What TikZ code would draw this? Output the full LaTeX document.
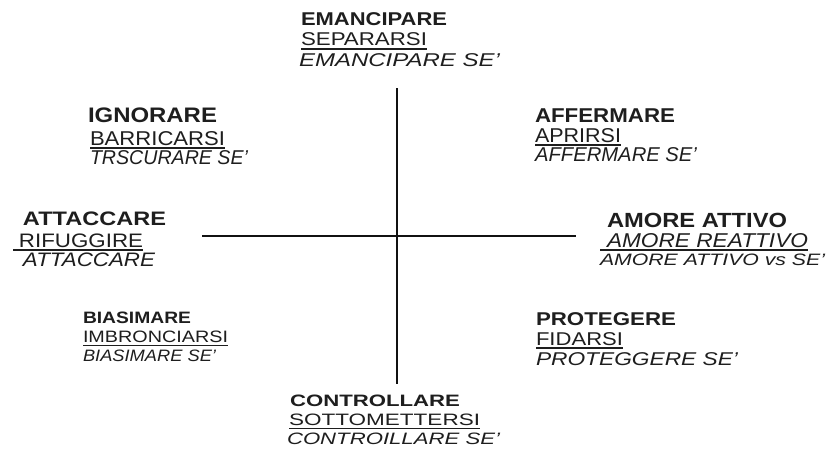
\documentclass[tikz,border=0pt]{standalone}
\usepackage{fontspec}
\usepackage{graphicx}
\setmainfont{Liberation Sans}
\definecolor{ink}{HTML}{1E1E1E}
\definecolor{axis}{HTML}{111111}
\newcommand\myul[2][0pt]{\setbox0=\hbox{#2}\rlap{\kern-#1\rule[-3.6pt]{\dimexpr\wd0+#1\relax}{1.3pt}}\box0}
% \fitline{fontsize}{width}{text}
\newcommand\fitline[3]{\resizebox{#2pt}{\height}{\fontsize{#1}{#1}\selectfont #3}}
\tikzset{
  lbl/.style={anchor=base west, inner sep=0pt, outer sep=0pt, text=ink},
  axisline/.style={draw=axis, line width=2.6pt}
}
\begin{document}
\begin{tikzpicture}[x=1pt,y=-1pt]
\useasboundingbox (0,0) rectangle (826,452);
\fill[white] (0,0) rectangle (826,452);
% axes
\coordinate (vt) at (397,88);
\coordinate (vb) at (397,383.5);
\coordinate (hl) at (202,236);
\coordinate (hr) at (576,236);
\draw[axisline] (vt) -- (vb);
\draw[axisline] (hl) -- (hr);
% top
\node[lbl] (t1) at (301,26) {\fitline{18.5}{146}{\bfseries EMANCIPARE}};
\node[lbl] (t2) at (301,46) {\fitline{18.5}{126}{\myul{SEPARARSI}}};
\node[lbl] (t3) at (299,66.5) {\fitline{18.5}{201}{\itshape EMANCIPARE SE'}};
% upper left
\node[lbl] (ul1) at (88,122) {\fitline{21}{129}{\bfseries IGNORARE}};
\node[lbl] (ul2) at (90,145) {\fitline{20}{135}{\myul{BARRICARSI}}};
\node[lbl] (ul3) at (90,164) {\fitline{20}{158}{\itshape TRSCURARE SE'}};
% left
\node[lbl] (l1) at (23,225.5) {\fitline{19.5}{143}{\bfseries ATTACCARE}};
\node[lbl] (l2) at (19,247) {\fitline{19.5}{124}{\myul[5pt]{RIFUGGIRE}}};
\node[lbl] (l3) at (23,266.7) {\fitline{19.5}{132}{\itshape ATTACCARE}};
% upper right
\node[lbl] (ur1) at (535,122) {\fitline{20}{140}{\bfseries AFFERMARE}};
\node[lbl] (ur2) at (535,142) {\fitline{20}{86}{\myul{APRIRSI}}};
\node[lbl] (ur3) at (535,161) {\fitline{20}{162}{\itshape AFFERMARE SE'}};
% right
\node[lbl] (r1) at (607,227) {\fitline{20.5}{180}{\bfseries AMORE ATTIVO}};
\node[lbl] (r2) at (607,247) {\fitline{20}{201}{\itshape\myul[6pt]{AMORE REATTIVO}}};
\node[lbl] (r3) at (600,265) {\fitline{16.5}{225}{\itshape AMORE ATTIVO vs SE'}};
% lower left
\node[lbl] (ll1) at (83,323) {\fitline{16.5}{108}{\bfseries BIASIMARE}};
\node[lbl] (ll2) at (83,342.7) {\fitline{16.5}{145}{\myul{IMBRONCIARSI}}};
\node[lbl] (ll3) at (83,361.7) {\fitline{16.5}{133}{\itshape BIASIMARE SE'}};
% lower right
\node[lbl] (lr1) at (536,325) {\fitline{18.5}{140}{\bfseries PROTEGERE}};
\node[lbl] (lr2) at (536,345) {\fitline{18.5}{87}{\myul{FIDARSI}}};
\node[lbl] (lr3) at (536,365) {\fitline{18.5}{202}{\itshape PROTEGGERE SE'}};
% bottom
\node[lbl] (b1) at (290,406) {\fitline{16.5}{170}{\bfseries CONTROLLARE}};
\node[lbl] (b2) at (289,425.5) {\fitline{16.5}{191}{\myul{SOTTOMETTERSI}}};
\node[lbl] (b3) at (287,444.5) {\fitline{16.5}{213}{\itshape CONTROILLARE SE'}};
\end{tikzpicture}
\end{document}
